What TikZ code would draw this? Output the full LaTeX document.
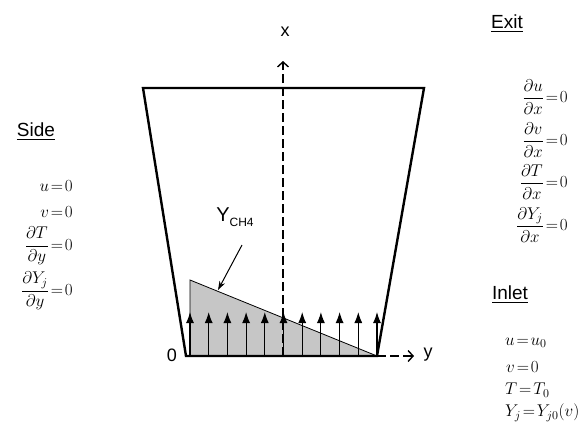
\documentclass[tikz,border=0pt]{standalone}
\usepackage{amsmath,amssymb}
\usepackage{fix-cm}
\usepackage{fontspec}
\setsansfont{Liberation Sans}
\usetikzlibrary{arrows.meta, positioning, calc}

\begin{document}
\thickmuskip=2mu\relax
\begin{tikzpicture}[x=1pt, y=-1pt,
  wall/.style={line width=2.4pt, line join=miter},
  axis/.style={dashed, dash pattern=on 9pt off 4pt, line width=1.1pt,
               -{Straight Barb[length=5pt, width=11pt, line width=1.4pt]}},
  inflow/.style={line width=1.1pt, -{Latex[length=11pt, width=8pt]}},
  head/.style={font=\fontsize{19}{22}\sffamily},
  lbl/.style={font=\fontsize{18}{20}\sffamily, inner sep=1pt},
  bc/.style={font=\fontsize{17}{20}\selectfont, anchor=east, inner sep=0pt},
]
  \useasboundingbox (0,0) rectangle (583,432);

  %% -- chamber walls -------------------------------------------------------
  \coordinate (tl) at (143,88);
  \coordinate (tr) at (424,88);
  \coordinate (br) at (377,356);
  \coordinate (bl) at (186,356);
  \coordinate (o)  at (283,356);
  \coordinate (xtip) at (283,61);
  \coordinate (ytip) at (414,356);

  %% -- inlet profile of Y_CH4 ----------------------------------------------
  \fill[gray!45] (190,280) -- (190,356) -- (br) -- cycle;
  \draw[line width=0.8pt] (190,356) -- (190,280) -- (br);
  \coordinate (hyp) at (218,290);

  %% -- inflow arrows -------------------------------------------------------
  \foreach \i in {0,...,10}
    \draw[inflow] ({190+\i*18.7},356) -- ({190+\i*18.7},312);

  \draw[wall] (bl) -- (tl) -- (tr) -- (br) -- cycle;

  %% -- axes ----------------------------------------------------------------
  \draw[axis] (o) -- (xtip);
  \draw[axis] (br) -- (ytip);
  \node[lbl] (xl)   at (285,32)  {x};
  \node[lbl] (yl)   at (428,355) {y};
  \node[lbl] (zero) at (172,355) {0};

  \node[lbl, font=\fontsize{20}{22}\sffamily] (ych4) at (235,217)
    {Y\raisebox{-5pt}{\fontsize{12}{12}\selectfont CH4}};
  \coordinate (ys) at (242,245);
  \draw[line width=1pt, -{Stealth[length=9pt, width=6pt]}] (ys) -- (hyp);

  %% -- side conditions -----------------------------------------------------
  \node[head] (side) at (36,132) {\underline{Side}};
  \node[bc] (s1) at (73,186) {$u=0$};
  \node[bc] (s2) at (73,212) {$v=0$};
  \node[bc] (s3) at (73,246) {$\dfrac{\partial T}{\partial y}=0$};
  \node[bc] (s4) at (73,291) {$\dfrac{\partial Y_j}{\partial y}=0$};

  %% -- exit conditions -----------------------------------------------------
  \node[head] (exit) at (507,24) {\underline{Exit}};
  \node[bc] (e1) at (568,97)  {$\dfrac{\partial u}{\partial x}=0$};
  \node[bc] (e2) at (568,140) {$\dfrac{\partial v}{\partial x}=0$};
  \node[bc] (e3) at (568,182) {$\dfrac{\partial T}{\partial x}=0$};
  \node[bc] (e4) at (568,225) {$\dfrac{\partial Y_j}{\partial x}=0$};

  %% -- inlet conditions ----------------------------------------------------
  \node[head] (inlet) at (510,295) {\underline{Inlet}};
  \node[bc, anchor=west] (i1) at (505,343) {$u=u_0$};
  \node[bc, anchor=west] (i2) at (506,367) {$v=0$};
  \node[bc, anchor=west] (i3) at (505,390) {$T=T_0$};
  \node[bc, anchor=west] (i4) at (505,413) {$Y_j=Y_{j0}(v)$};
\end{tikzpicture}
\end{document}
